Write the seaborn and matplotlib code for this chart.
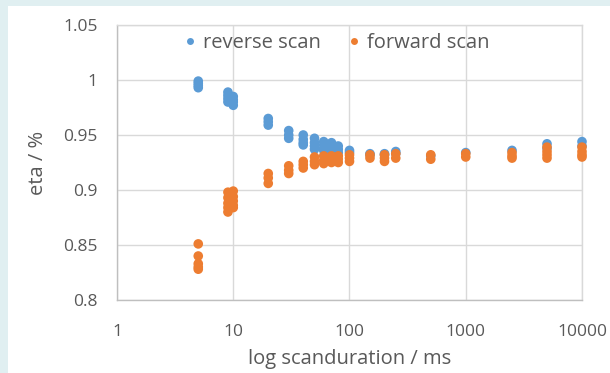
import matplotlib
matplotlib.use("Agg")
import matplotlib.pyplot as plt
import seaborn as sns
import pandas as pd
from matplotlib.patches import Rectangle
from matplotlib.lines import Line2D

# ---- data ----
reverse_x = [5, 5, 5, 5,
             9, 9, 9, 9,
             10, 10, 10, 10,
             20, 20, 20,
             30, 30, 30,
             40, 40, 40, 40,
             50, 50, 50, 50,
             60, 60, 60, 60,
             70, 70, 70, 70,
             80, 80, 80,
             100, 100,
             150, 150,
             200, 200,
             250, 250,
             500,
             1000,
             2500,
             5000, 5000,
             10000, 10000]
reverse_y = [0.999, 0.997, 0.995, 0.993,
             0.989, 0.986, 0.983, 0.980,
             0.985, 0.982, 0.980, 0.977,
             0.965, 0.962, 0.959,
             0.954, 0.950, 0.947,
             0.950, 0.946, 0.943, 0.941,
             0.947, 0.943, 0.940, 0.937,
             0.944, 0.941, 0.938, 0.936,
             0.943, 0.940, 0.937, 0.935,
             0.940, 0.937, 0.934,
             0.936, 0.934,
             0.933, 0.932,
             0.933, 0.932,
             0.935, 0.933,
             0.931,
             0.934,
             0.936,
             0.942, 0.938,
             0.944, 0.940]

forward_x = [5, 5, 5, 5, 5,
             9, 9, 9, 9, 9,
             10, 10, 10, 10, 10,
             20, 20, 20,
             30, 30, 30,
             40, 40, 40,
             50, 50, 50,
             60, 60, 60,
             70, 70, 70,
             80, 80, 80,
             100, 100, 100,
             150, 150,
             200, 200, 200,
             250, 250,
             500, 500,
             1000, 1000,
             2500, 2500, 2500,
             5000, 5000, 5000, 5000,
             10000, 10000, 10000, 10000]
forward_y = [0.851, 0.840, 0.833, 0.830, 0.828,
             0.898, 0.893, 0.888, 0.884, 0.880,
             0.899, 0.894, 0.890, 0.886, 0.884,
             0.915, 0.911, 0.906,
             0.922, 0.918, 0.915,
             0.926, 0.923, 0.920,
             0.930, 0.926, 0.923,
             0.931, 0.927, 0.924,
             0.931, 0.928, 0.925,
             0.931, 0.928, 0.925,
             0.932, 0.929, 0.926,
             0.932, 0.929,
             0.932, 0.929, 0.926,
             0.933, 0.929,
             0.932, 0.928,
             0.933, 0.930,
             0.934, 0.931, 0.929,
             0.939, 0.935, 0.932, 0.929,
             0.939, 0.935, 0.932, 0.930]

series_names = ["reverse scan", "forward scan"]
series_colors = ["#5B9BD5", "#ED7D31"]
x_ticks = [1, 10, 100, 1000, 10000]
x_tick_labels = ["1", "10", "100", "1000", "10000"]
y_ticks = [0.8, 0.85, 0.9, 0.95, 1.0, 1.05]
y_tick_labels = ["0.8", "0.85", "0.9", "0.95", "1", "1.05"]

df = pd.DataFrame({
    "x": reverse_x + forward_x,
    "y": reverse_y + forward_y,
    "series": [series_names[0]] * len(reverse_x) + [series_names[1]] * len(forward_x),
})

# ---- style ----
sns.set_theme(style="white")
plt.rcParams["font.family"] = ["Open Sans", "DejaVu Sans"]
text_color = "#595959"
grid_color = "#D9D9D9"
frame_color = "#E0EFF1"

W, H = 610, 373
fig = plt.figure(figsize=(W / 100, H / 100), dpi=100)
fig.patch.set_facecolor("white")
# light border strips on the left and top
fig.patches.append(Rectangle((0, 0), 8 / W, 1, transform=fig.transFigure,
                             facecolor=frame_color, edgecolor="none", zorder=-10))
fig.patches.append(Rectangle((0, 1 - 6 / H), 1, 6 / H, transform=fig.transFigure,
                             facecolor=frame_color, edgecolor="none", zorder=-10))
ax = fig.add_axes([117 / W, 1 - 300 / H, (582 - 117) / W, (300 - 25) / H])
ax.set_facecolor("white")

sns.scatterplot(data=df, x="x", y="y", hue="series", palette=series_colors,
                hue_order=series_names, s=48, edgecolor="none", linewidth=0,
                ax=ax, legend=False, zorder=3, clip_on=False)

ax.set_xscale("log")
ax.set_xlim(1, 10000)
ax.set_ylim(0.8, 1.05)
ax.set_xticks(x_ticks)
ax.set_xticklabels(x_tick_labels)
ax.set_yticks(y_ticks)
ax.set_yticklabels(y_tick_labels)
ax.minorticks_off()
ax.tick_params(axis="both", length=0, labelsize=12.5, colors=text_color)
ax.tick_params(axis="y", pad=14)
ax.tick_params(axis="x", pad=17)
ax.grid(True, color=grid_color, linewidth=1)
ax.set_axisbelow(True)
for sp in ax.spines.values():
    sp.set_color(grid_color)
    sp.set_linewidth(1)
ax.spines["left"].set_color("#BFBFBF")
ax.spines["bottom"].set_color("#BFBFBF")

ax.set_xlabel("log scanduration / ms", fontsize=14.5, color=text_color)
ax.set_ylabel("eta / %", fontsize=14.5, color=text_color)
ax.xaxis.set_label_coords(0.5, -(349 - 300) / 275)
ax.yaxis.set_label_coords(-(117 - 48) / 465, 0.5)

handles = [Line2D([0], [0], marker="o", linestyle="none", markersize=5,
                  markerfacecolor=c, markeredgecolor="none") for c in series_colors]
leg = ax.legend(handles, series_names, loc="center", ncol=2, frameon=False,
                fontsize=14.5, bbox_to_anchor=((337 - 117) / 465, (300 - 43) / 275),
                handlelength=0.5, handletextpad=0.4, columnspacing=1.4,
                borderaxespad=0, borderpad=0)
for t in leg.get_texts():
    t.set_color(text_color)

fig.savefig("out.png", dpi=100, facecolor=fig.get_facecolor())
